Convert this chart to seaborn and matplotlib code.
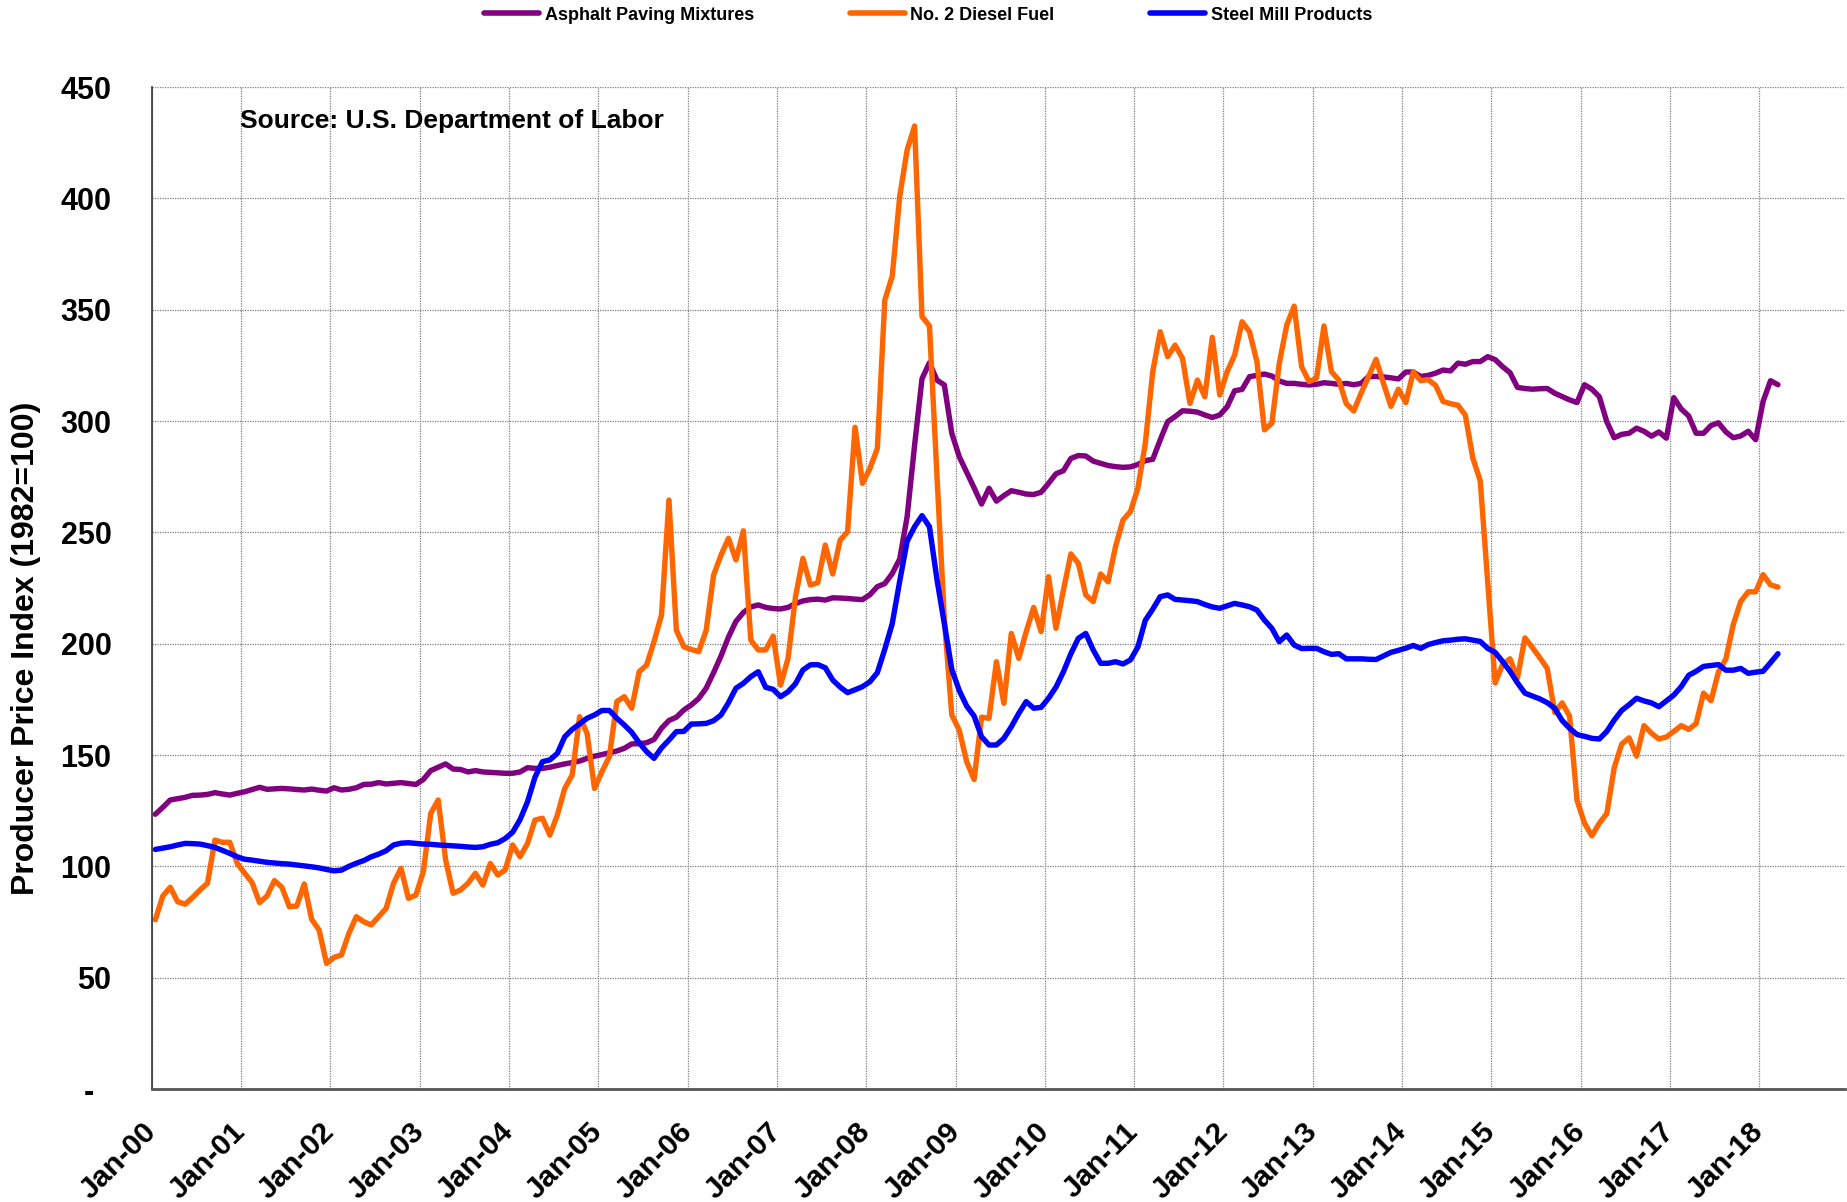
import numpy as np
import pandas as pd
import matplotlib
matplotlib.use('Agg')
import matplotlib.pyplot as plt
import seaborn as sns
from matplotlib.transforms import ScaledTranslation

# Monthly PPI values, Jan 2000 - Mar 2018
asphalt = [
    123.4, 126.5, 129.8, 130.4, 131, 131.9, 132, 132.3, 133.1, 132.5, 132, 132.8,
    133.5, 134.5, 135.5, 134.6, 134.8, 135, 134.8, 134.5, 134.3, 134.7, 134.2, 133.8,
    135.3, 134.3, 134.6, 135.3, 136.8, 136.9, 137.6, 137, 137.3, 137.6, 137.2, 136.8,
    139, 143, 144.5, 146, 143.7, 143.5, 142.4, 143, 142.4, 142.2, 142, 141.8,
    141.8, 142.4, 144.3, 144, 144, 144.5, 145.3, 146, 146.6, 147.3, 148.5, 149.5,
    150.2, 151, 151.8, 153, 155, 155.1, 155.5, 157, 162, 165.5, 167, 170.2,
    172.5, 175.4, 180, 187, 194.5, 203, 210, 214, 216.5, 217.4, 216.3, 215.8,
    215.6, 216.3, 218, 219.2, 219.8, 220, 219.6, 220.6, 220.5, 220.3, 220, 219.8,
    222, 225.6, 227, 231.5, 238, 257, 289, 319, 326.2, 318.4, 316.2, 294.5,
    284, 277, 270, 262.7, 269.8, 264, 266.5, 268.7, 268, 267.2, 267, 268,
    272, 276.3, 277.7, 283.2, 284.5, 284.3, 282, 281, 280, 279.5, 279.2, 279.4,
    280.5, 282.2, 282.8, 291.5, 299.7, 302, 304.6, 304.4, 304, 302.7, 301.6, 302.7,
    306.4, 313.6, 314.2, 319.9, 320.5, 321.1, 320.2, 318, 316.9, 316.9, 316.5, 316.2,
    316.5, 317.2, 316.9, 316.5, 316.9, 316.3, 316.9, 320, 320, 319.8, 319.4, 318.9,
    322, 322, 320, 320.5, 321.5, 322.9, 322.5, 326, 325.5, 326.7, 326.7, 328.9,
    327.6, 324.4, 321.7, 315.1, 314.6, 314.3, 314.5, 314.6, 312.5, 311, 309.5, 308.3,
    316.3, 314.3, 310.9, 299.7, 292.5, 294, 294.5, 296.8, 295.4, 293.2, 295.1, 292.3,
    310.5, 305.4, 302.3, 294.5, 294.5, 298, 299.2, 295.1, 292.5, 293.3, 295.4, 291.6,
    308.8, 318.1, 316.3,
]

diesel = [
    76, 86.7, 90.6, 84.1, 83, 86, 89.4, 92.4, 111.8, 110.8, 110.8, 101.3,
    96.9, 92.7, 83.7, 86.7, 93.6, 90.6, 81.9, 82.2, 92.1, 76.2, 71.4, 56.4,
    59.1, 60.2, 69.9, 77.4, 75.1, 73.7, 77.4, 81.1, 92.4, 99.1, 85.6, 87.1,
    97.6, 123.8, 129.8, 102.8, 87.9, 89.4, 92.4, 96.9, 91.6, 101.3, 96.1, 98.4,
    109.6, 104.3, 110.3, 120.8, 121.6, 114, 123, 135, 141, 167.2, 159.7, 135,
    142.5, 149.3, 174, 176.2, 171, 187.4, 190.4, 201, 212.9, 264.5, 206, 198.6,
    197.4, 196.4, 206, 230.8, 239.8, 247.3, 237.6, 250.7, 201.6, 197.2, 197.2, 203.4,
    181.4, 193.4, 221, 238.3, 226.3, 227.4, 244.3, 231.3, 246.5, 250.3, 297.2, 272,
    278.7, 287.7, 354.3, 365.1, 400.8, 421.7, 432.5, 346.9, 342.7, 276, 211, 168,
    161.2, 147, 139, 167, 166.5, 191.9, 173.2, 204.6, 193.4, 205.4, 216.3, 205.4,
    230.1, 206.9, 224.1, 240.3, 236.1, 221.9, 218.9, 231.3, 227.8, 243.6, 255.5, 259.3,
    269.8, 290, 322.2, 340.1, 328.9, 334.1, 328.1, 307.9, 318.4, 310.9, 337.6, 311.7,
    322.2, 329.6, 344.6, 340.1, 326.6, 296, 299, 325.9, 343.1, 351.6, 324.4, 317.7,
    319.2, 342.7, 322.2, 318.4, 307.8, 304.5, 312.6, 320, 327.7, 316.9, 306.6, 314.3,
    308.3, 322, 318.1, 318.6, 316, 308.8, 307.8, 307.1, 302.6, 283.4, 273.1, 228,
    182.4, 190.6, 193.2, 184.6, 202.6, 198.3, 193.7, 188.9, 169.1, 173.4, 167.4, 129.7,
    119.4, 113.7, 119.4, 123.7, 144.3, 154.9, 157.7, 149.5, 163.2, 159.8, 157.2, 158.1,
    160.6, 163.2, 161.5, 164.1, 177.8, 174.4, 187.3, 193.2, 208.7, 219, 223.3, 223.3,
    231, 226.4, 225.4,
]

steel = [
    107.6, 108.2, 108.8, 109.6, 110.3, 110.2, 110, 109.3, 108.5, 107.2, 105.8, 104.3,
    103.2, 102.8, 102.3, 101.8, 101.5, 101.2, 101, 100.6, 100.2, 99.8, 99.3, 98.6,
    98, 98.3, 100, 101.4, 102.6, 104.3, 105.5, 107, 109.6, 110.4, 110.6, 110.3,
    110, 109.9, 109.6, 109.4, 109.2, 109, 108.7, 108.5, 108.8, 109.9, 110.6, 112.5,
    115.3, 121, 129, 140, 147, 147.8, 150.7, 158.2, 161.5, 164, 166.5, 168,
    170, 170, 166.5, 163.5, 160.2, 155.5, 151.5, 148.5, 153.2, 156.7, 160.5, 160.6,
    163.9, 164, 164.2, 165.4, 168, 173.5, 180, 182.2, 185.2, 187.4, 180.4, 179.5,
    176.2, 178.4, 182, 188.2, 190.5, 190.6, 189.2, 183.7, 180.5, 178, 179.3, 180.7,
    182.9, 187, 197.5, 209, 228, 246, 252.5, 257.5, 252.5, 229, 209, 188.5,
    179, 172, 167.5, 158.2, 154.5, 154.5, 157.5, 162.7, 168.7, 174, 171, 171.4,
    175.5, 180.5, 187.4, 195.5, 202.4, 204.6, 197.2, 191.2, 191.2, 191.9, 190.9, 192.7,
    198.5, 210.5, 215.5, 221.1, 221.9, 219.9, 219.6, 219.3, 218.9, 217.6, 216.5, 215.9,
    217, 218.1, 217.4, 216.6, 215.1, 210.6, 206.9, 200.9, 203.9, 199.4, 197.8, 197.9,
    197.9, 196.4, 195.2, 195.5, 193.2, 193.2, 193.2, 193, 192.9, 194.5, 196.1, 197,
    198, 199.2, 197.9, 199.6, 200.5, 201.3, 201.6, 202, 202.2, 201.6, 201, 197.9,
    196.1, 192, 187.6, 182.4, 177.8, 176.5, 175.2, 173.5, 171, 165.5, 162, 159.2,
    158.4, 157.5, 157.2, 160.6, 165.7, 170, 172.6, 175.5, 174.3, 173.4, 171.7, 174.3,
    176.9, 180.7, 185.8, 187.6, 189.8, 190.2, 190.6, 188.1, 188.1, 188.9, 186.7, 187.2,
    187.6, 191.5, 195.5,
]

series_names = ['Asphalt Paving Mixtures', 'No. 2 Diesel Fuel', 'Steel Mill Products']
colors = {'Asphalt Paving Mixtures': '#800080',
          'No. 2 Diesel Fuel': '#FF6600',
          'Steel Mill Products': '#0000FF'}
year_labels = ['Jan-%02d' % y for y in range(0, 19)]
y_ticks = [0, 50, 100, 150, 200, 250, 300, 350, 400, 450]
y_labels = ['-  '] + [str(v) for v in y_ticks[1:]]

# month index -> category centre (Excel category axis, points between ticks)
n = len(asphalt)
pos = np.arange(n) + 0.5
df = pd.concat([
    pd.DataFrame({'pos': pos, 'value': vals, 'series': name})
    for name, vals in zip(series_names, [asphalt, diesel, steel])
], ignore_index=True)

sns.set_style('white')
plt.rcParams['font.family'] = ['Liberation Sans', 'DejaVu Sans']
plt.rcParams['font.weight'] = 'bold'
plt.rcParams['text.color'] = 'black'
plt.rcParams['xtick.color'] = 'black'
plt.rcParams['ytick.color'] = 'black'

fig = plt.figure(figsize=(18.47, 12.02), dpi=100)
ax = fig.add_axes([0.0821, 0.094, 0.9168, 0.8336])

sns.lineplot(data=df, x='pos', y='value', hue='series', hue_order=series_names,
             palette=colors, linewidth=3.9, sort=False, ax=ax)
for line in ax.get_lines():
    line.set_solid_capstyle('round')
    line.set_solid_joinstyle('round')

ax.set_xlim(0, 227.5)
ax.set_ylim(0, 450)
ax.set_xticks(np.arange(0, 217, 12))
ax.set_xticklabels(year_labels, rotation=45, ha='right', va='center',
                   rotation_mode='anchor', fontsize=21.5, fontweight='bold')
ax.set_yticks(y_ticks)
ax.set_yticklabels(y_labels, fontsize=22, fontweight='bold')
offset = ScaledTranslation(16 / 100, 15 / 100, fig.dpi_scale_trans)
for lbl in ax.get_xticklabels():
    lbl.set_transform(lbl.get_transform() + offset)

ax.tick_params(axis='y', direction='inout', length=13.7, width=1.2, pad=22, color='#333333',
               labelcolor='black')
ax.tick_params(axis='x', direction='inout', length=13, width=1.2, pad=21, color='#333333',
               labelcolor='black')
ax.grid(True, linestyle=(0, (1, 1)), color='#7f7f7f', linewidth=0.9)
ax.set_axisbelow(True)
for side in ['top', 'right']:
    ax.spines[side].set_visible(False)
ax.spines['left'].set_color('#333333')
ax.spines['left'].set_linewidth(1.2)
ax.spines['bottom'].set_color('#555555')
ax.spines['bottom'].set_linewidth(2)

ax.set_xlabel('')
ax.set_ylabel('')
fig.text(26 / 1847, 0.461, 'Producer Price Index (1982=100)', rotation=90,
         ha='center', va='center', fontsize=23, fontweight='bold', color='black')
ax.text(0.0521, 0.966, 'Source: U.S. Department of Labor', transform=ax.transAxes,
        ha='left', va='center', fontsize=19, fontweight='bold', color='black')

sns.move_legend(ax, 'center', bbox_to_anchor=(0.5025, 1 - 15 / 1202),
                bbox_transform=fig.transFigure, ncol=3, frameon=False, title=None,
                prop={'weight': 'bold', 'size': 13}, handlelength=3.05,
                handletextpad=0.3, columnspacing=5.3)
for h in ax.get_legend().get_lines():
    h.set_linewidth(4)
    h.set_solid_capstyle('round')
for t in ax.get_legend().get_texts():
    t.set_color('black')

fig.savefig('out.png', dpi=100)
